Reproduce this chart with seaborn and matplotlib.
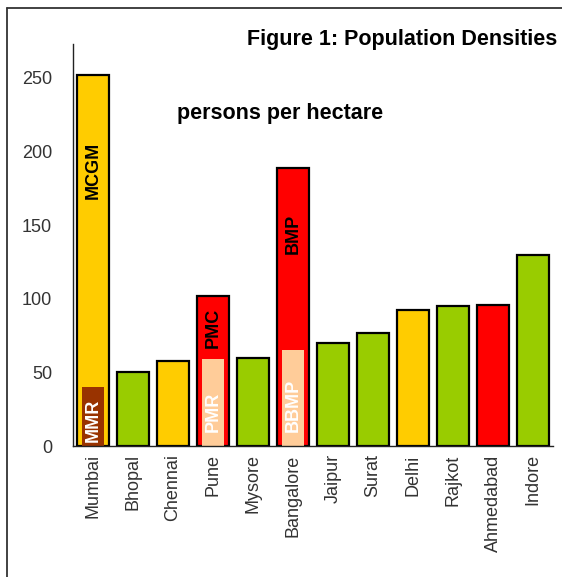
import matplotlib
matplotlib.use("Agg")
import matplotlib.pyplot as plt
from matplotlib.lines import Line2D
import seaborn as sns
import pandas as pd

# --- DATA ---
cities = ["Mumbai", "Bhopal", "Chennai", "Pune", "Mysore", "Bangalore",
          "Jaipur", "Surat", "Delhi", "Rajkot", "Ahmedabad", "Indore"]
density = [252, 50, 58, 102, 60, 189, 70, 77, 92, 95, 96, 130]
bar_colors = ["#FFCC00", "#99CC00", "#FFCC00", "#FF0000", "#99CC00", "#FF0000",
              "#99CC00", "#99CC00", "#FFCC00", "#99CC00", "#FF0000", "#99CC00"]

# metropolitan-region values drawn inside the corporation bars
inner_cities = ["Mumbai", "Pune", "Bangalore"]
inner_density = [40, 59, 65]
inner_colors = ["#993300", "#FFCC99", "#FFCC99"]

outer_labels = {"Mumbai": ("MCGM", 187), "Pune": ("PMC", 80), "Bangalore": ("BMP", 144)}
inner_labels = {"Mumbai": ("MMR", 3), "Pune": ("PMR", 9.5), "Bangalore": ("BBMP", 9.5)}

# --- PLOT ---
sns.set_style("white")
plt.rcParams["font.family"] = ["Liberation Sans", "DejaVu Sans"]

fig = plt.figure(figsize=(5.62, 5.77), dpi=100)
ax = fig.add_axes([0.130, 0.227, 0.854, 0.697])

df = pd.DataFrame({"city": cities, "density": density})
sns.barplot(data=df, x="city", y="density", hue="city", order=cities,
            palette=dict(zip(cities, bar_colors)), legend=False,
            edgecolor="black", linewidth=1.6, width=0.82, saturation=1, ax=ax)

inner_df = pd.DataFrame({"city": inner_cities, "density": inner_density})
sns.barplot(data=inner_df, x="city", y="density", hue="city", order=cities,
            palette=dict(zip(inner_cities, inner_colors)), legend=False,
            linewidth=0, width=0.55, saturation=1, ax=ax)

for city, (txt, y) in outer_labels.items():
    ax.text(cities.index(city), y, txt, rotation=90, ha="center", va="center",
            fontsize=13, fontweight="bold", color="black")
for city, (txt, y) in inner_labels.items():
    ax.text(cities.index(city), y, txt, rotation=90, ha="center", va="bottom",
            fontsize=13, fontweight="bold", color="white")

ax.set_xlim(-0.5, 11.5)
ax.set_ylim(0, 273)
ax.set_yticks([0, 50, 100, 150, 200, 250])
ax.set_xlabel("")
ax.set_ylabel("")
ax.tick_params(axis="y", labelsize=13, length=0, pad=15, colors="#333333")
ax.tick_params(axis="x", labelsize=13, length=0, pad=6, rotation=90, colors="#333333")
for s in ["top", "right"]:
    ax.spines[s].set_visible(False)
for s in ["left", "bottom"]:
    ax.spines[s].set_color("#222222")
    ax.spines[s].set_linewidth(1.0)

fig.text(0.991, 0.932, "Figure 1: Population Densities", ha="right", va="center",
         fontsize=15.5, fontweight="bold", color="black")
fig.text(0.315, 0.804, "persons per hectare", ha="left", va="center",
         fontsize=15.5, fontweight="bold", color="black")

# outer frame lines (left and top)
fig.add_artist(Line2D([0.0125, 0.0125], [0.0, 0.986], transform=fig.transFigure,
                      color="#333333", linewidth=1.3))
fig.add_artist(Line2D([0.0125, 1.0], [0.986, 0.986], transform=fig.transFigure,
                      color="#333333", linewidth=1.3))

fig.savefig("out.png", dpi=100)
